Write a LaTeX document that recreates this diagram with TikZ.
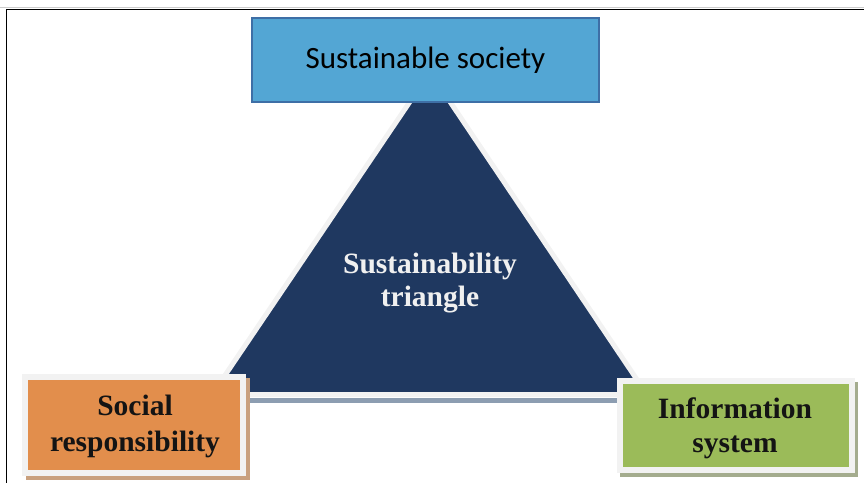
\documentclass[tikz,border=0pt]{standalone}
\usepackage{fontspec}
\setmainfont{Liberation Serif}
\newfontfamily\calibfont{Carlito}
\definecolor{topblue}{HTML}{53A6D4}
\definecolor{topborder}{HTML}{3E6FA6}
\definecolor{navy}{HTML}{1F3860}
\definecolor{orangebox}{HTML}{E28E4C}
\definecolor{greenbox}{HTML}{9BBB59}
\definecolor{framewhite}{HTML}{F2F2F2}
\definecolor{orshadow}{HTML}{C9A07E}
\definecolor{grshadow}{HTML}{A4AC8E}
\definecolor{baseshadow}{HTML}{8C9DB1}
\begin{document}
\begin{tikzpicture}[x=1pt,y=-1pt,
  sidebox/.style={draw=framewhite, line width=6pt, inner sep=0pt},
  boldlabel/.style={align=center, inner sep=0pt,
    font=\bfseries\fontsize{29.5}{36}\selectfont},
]
\useasboundingbox (0,0) rectangle (864,483);
% page frame
\draw[gray!40, line width=0.8pt] (0,7) -- (864,7);
\draw[black, line width=1pt] (864,9.5) -- (6,9.5) -- (6,483);
% triangle shadow at base
\fill[baseshadow] (245,397.5) rectangle (618,402.5);
% triangle
\path[fill=navy, draw=framewhite, line width=5pt, line join=miter]
  (430,72) -- (212,394.5) -- (647,394.5) -- cycle;
\node[boldlabel, text=white!94!black, font=\bfseries\fontsize{29.5}{33}\selectfont]
  (tri) at (430,283) {Sustainability\\triangle};
% top box
\node[draw=topborder, fill=topblue, line width=1.2pt, inner sep=0pt,
  minimum width=347pt, minimum height=84pt,
  font=\calibfont\fontsize{31}{37}\selectfont] (soc) at (425.5,60) {Sustainable society};
% social responsibility
\fill[orshadow] (26,378) rectangle (250,480);
\node[sidebox, fill=orangebox, minimum width=218pt, minimum height=96pt] (sr) at (134,425) {};
\node[boldlabel, text=black!92] (srt) at (135,426) {Social\\responsibility};
% information system
\fill[grshadow] (620,382) rectangle (858,477);
\node[sidebox, fill=greenbox, minimum width=232pt, minimum height=89pt] (is) at (736,425.5) {};
\node[boldlabel, font=\bfseries\fontsize{29.5}{34}\selectfont, text=black!92] (ist) at (735,428.5) {Information\\system};
\end{tikzpicture}
\end{document}
